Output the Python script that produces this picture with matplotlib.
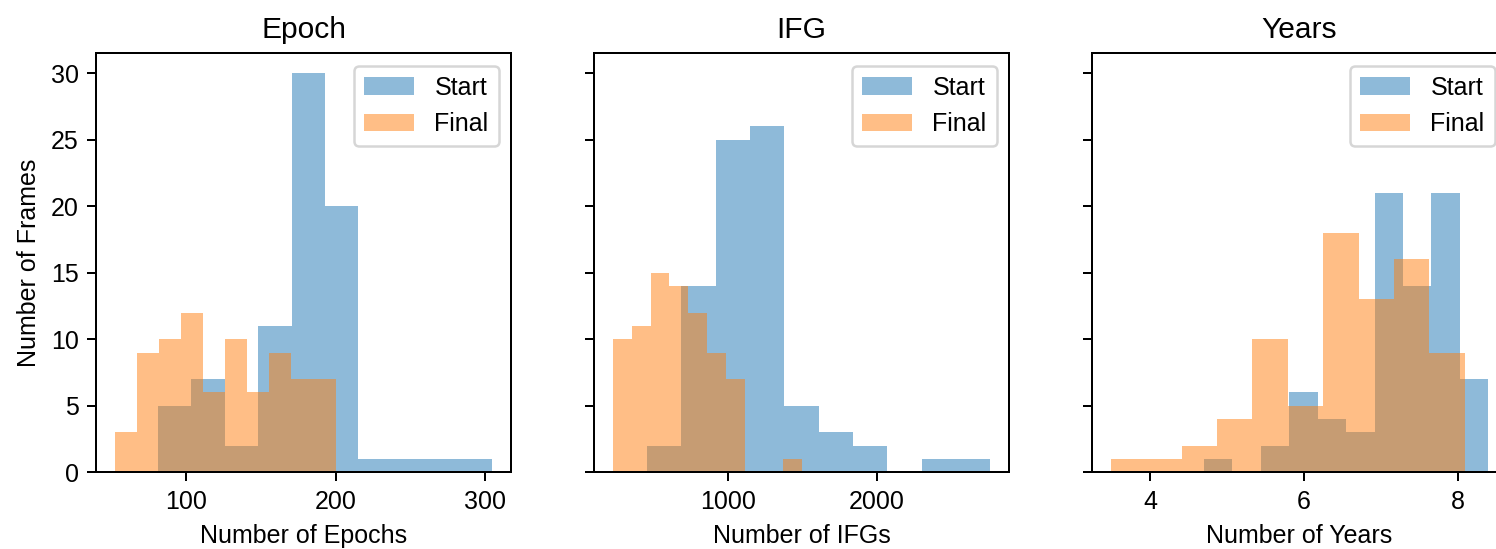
import numpy as np
import matplotlib
matplotlib.use("Agg")
import matplotlib.pyplot as plt

plt.rcParams['font.family'] = ['Liberation Sans', 'DejaVu Sans']

# Histogram counts (79 frames each)
# Each series: (min value, max value) of the samples and counts for 10 bins
epoch_start_range = (80.8, 305.0)
epoch_start_counts = [5, 7, 2, 11, 30, 20, 1, 1, 1, 1]
epoch_final_range = (52.0, 200.0)
epoch_final_counts = [3, 9, 10, 12, 6, 10, 6, 9, 7, 7]

ifg_start_range = (454.0, 2764.0)
ifg_start_counts = [2, 14, 25, 26, 5, 3, 2, 0, 1, 1]
ifg_final_range = (224.5, 1495.0)
ifg_final_counts = [10, 11, 15, 14, 12, 9, 7, 0, 0, 1]

years_start_range = (4.701, 8.395)
years_start_counts = [1, 0, 2, 6, 4, 3, 21, 14, 21, 7]
years_final_range = (3.489, 8.091)
years_final_counts = [1, 1, 2, 4, 10, 5, 18, 13, 16, 9]

titles = ["Epoch", "IFG", "Years"]
xlabels = ["Number of Epochs", "Number of IFGs", "Number of Years"]
series_labels = ["Start", "Final"]

panels = [
    [(epoch_start_range, epoch_start_counts), (epoch_final_range, epoch_final_counts)],
    [(ifg_start_range, ifg_start_counts), (ifg_final_range, ifg_final_counts)],
    [(years_start_range, years_start_counts), (years_final_range, years_final_counts)],
]

W, H = 1496, 549
DPI = 180
fig = plt.figure(figsize=(W / DPI, H / DPI), dpi=DPI)

lefts = [96.0, 594.0, 1092.0]
ax_w, top, bottom = 415.0, 53.3, 472.3

axes = []
for i, left in enumerate(lefts):
    rect = [left / W, 1 - bottom / H, ax_w / W, (bottom - top) / H]
    if i == 0:
        ax = fig.add_axes(rect)
    else:
        ax = fig.add_axes(rect, sharey=axes[0])
        ax.tick_params(labelleft=False)
    axes.append(ax)

for ax, series, title, xlabel in zip(axes, panels, titles, xlabels):
    for (rng, counts), lab in zip(series, series_labels):
        edges = np.linspace(rng[0], rng[1], len(counts) + 1)
        ax.hist(edges[:-1], bins=edges, weights=counts, alpha=0.5, label=lab)
    ax.set_title(title)
    ax.set_xlabel(xlabel)
    ax.legend(loc='upper right')

axes[0].set_ylabel("Number of Frames")
axes[0].set_yticks([0, 5, 10, 15, 20, 25, 30])
axes[0].set_xticks([100, 200, 300])
axes[1].set_xticks([1000, 2000])
axes[2].set_xticks([4, 6, 8])

fig.savefig("out.png", dpi=DPI)
